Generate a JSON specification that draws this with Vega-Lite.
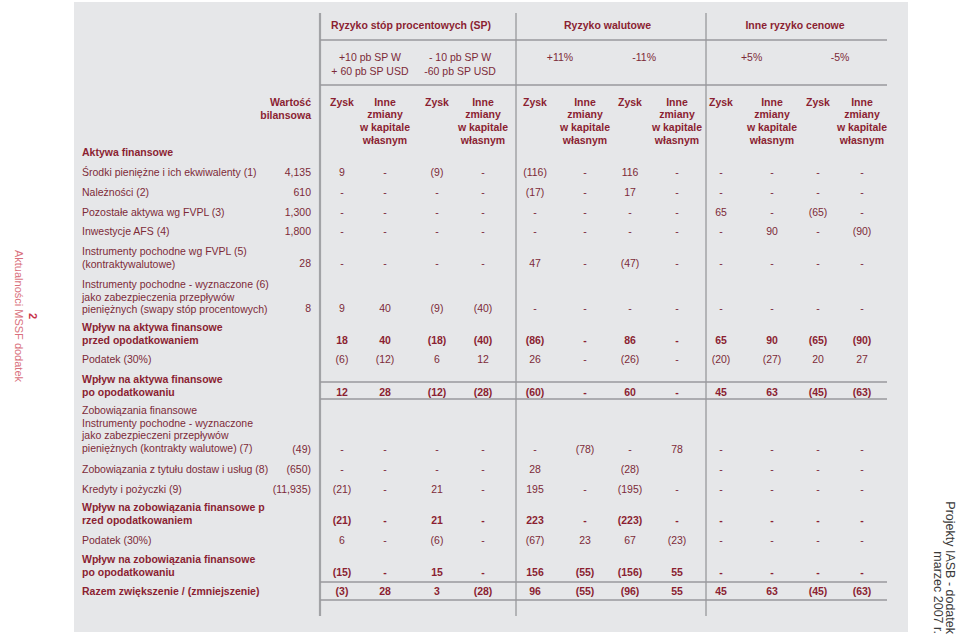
{
  "$schema": "https://vega.github.io/schema/vega-lite/v6.json",
  "width": 834,
  "height": 630,
  "autosize": {"type": "none"},
  "padding": {"left": 74, "top": 2, "right": 52, "bottom": 4},
  "background": "#ffffff",
  "config": {"view": {"fill": "#e6e7e9", "stroke": null}},
  "datasets": {
    "lines": [
      {"c": 0.5, "c2": 0.5, "r": 0, "r2": 27},
      {"c": 4.5, "c2": 4.5, "r": 0, "r2": 27},
      {"c": 8.5, "c2": 8.5, "r": 0, "r2": 27},
      {"c": 0.5, "c2": 12.5, "r": 2, "r2": 2},
      {"c": 0.5, "c2": 12.5, "r": 4, "r2": 4},
      {"c": 0.5, "c2": 12.5, "r": 15, "r2": 15},
      {"c": 0.5, "c2": 12.5, "r": 17, "r2": 17},
      {"c": 0.5, "c2": 12.5, "r": 24, "r2": 24},
      {"c": 0.5, "c2": 12.5, "r": 26, "r2": 26}
    ],
    "headers": [
      {"r": 1, "c": 2.5, "t": "Ryzyko stóp procentowych (SP)"},
      {"r": 1, "c": 6.5, "t": "Ryzyko walutowe"},
      {"r": 1, "c": 10.5, "t": "Inne ryzyko cenowe"},
      {"r": 3, "c": 1.65, "t": "+10 pb SP W\n+ 60 pb SP USD"},
      {"r": 3, "c": 3.5, "t": "- 10 pb SP W\n-60 pb SP USD"},
      {"r": 3, "c": 5.5, "t": "+11%"},
      {"r": 3, "c": 7.3, "t": "-11%"},
      {"r": 3, "c": 9.6, "t": "+5%"},
      {"r": 3, "c": 11.5, "t": "-5%"},
      {"r": 5, "c": 0, "t": "Wartość\nbilansowa"},
      {"r": 5, "c": 1, "t": "Zysk"},
      {"r": 5, "c": 2, "t": "Inne\nzmiany\nw kapitale\nwłasnym"},
      {"r": 5, "c": 3, "t": "Zysk"},
      {"r": 5, "c": 4, "t": "Inne\nzmiany\nw kapitale\nwłasnym"},
      {"r": 5, "c": 5, "t": "Zysk"},
      {"r": 5, "c": 6, "t": "Inne\nzmiany\nw kapitale\nwłasnym"},
      {"r": 5, "c": 7, "t": "Zysk"},
      {"r": 5, "c": 8, "t": "Inne\nzmiany\nw kapitale\nwłasnym"},
      {"r": 5, "c": 9, "t": "Zysk"},
      {"r": 5, "c": 10, "t": "Inne\nzmiany\nw kapitale\nwłasnym"},
      {"r": 5, "c": 11, "t": "Zysk"},
      {"r": 5, "c": 12, "t": "Inne\nzmiany\nw kapitale\nwłasnym"}
    ],
    "side": [
      {"c": -3, "r": 12.1, "t": "Aktualności MSSF dodatek"},
      {"c": -2, "r": 12.1, "t": "2"},
      {"c": 14, "r": 28, "t": "Projekty IASB - dodatek"},
      {"c": 13, "r": 28, "t": "marzec 2007 r."}
    ],
    "cells": [
      {"r": 6, "c": -1, "v": "Aktywa finansowe"},

      {"r": 7, "c": -1, "v": "Środki pieniężne i ich ekwiwalenty (1)"},
      {"r": 7, "c": 0, "v": "4,135"},
      {"r": 7, "c": 1, "v": "9"}, {"r": 7, "c": 2, "v": "-"}, {"r": 7, "c": 3, "v": "(9)"}, {"r": 7, "c": 4, "v": "-"},
      {"r": 7, "c": 5, "v": "(116)"}, {"r": 7, "c": 6, "v": "-"}, {"r": 7, "c": 7, "v": "116"}, {"r": 7, "c": 8, "v": "-"},
      {"r": 7, "c": 9, "v": "-"}, {"r": 7, "c": 10, "v": "-"}, {"r": 7, "c": 11, "v": "-"}, {"r": 7, "c": 12, "v": "-"},

      {"r": 8, "c": -1, "v": "Należności (2)"},
      {"r": 8, "c": 0, "v": "610"},
      {"r": 8, "c": 1, "v": "-"}, {"r": 8, "c": 2, "v": "-"}, {"r": 8, "c": 3, "v": "-"}, {"r": 8, "c": 4, "v": "-"},
      {"r": 8, "c": 5, "v": "(17)"}, {"r": 8, "c": 6, "v": "-"}, {"r": 8, "c": 7, "v": "17"}, {"r": 8, "c": 8, "v": "-"},
      {"r": 8, "c": 9, "v": "-"}, {"r": 8, "c": 10, "v": "-"}, {"r": 8, "c": 11, "v": "-"}, {"r": 8, "c": 12, "v": "-"},

      {"r": 9, "c": -1, "v": "Pozostałe aktywa wg FVPL (3)"},
      {"r": 9, "c": 0, "v": "1,300"},
      {"r": 9, "c": 1, "v": "-"}, {"r": 9, "c": 2, "v": "-"}, {"r": 9, "c": 3, "v": "-"}, {"r": 9, "c": 4, "v": "-"},
      {"r": 9, "c": 5, "v": "-"}, {"r": 9, "c": 6, "v": "-"}, {"r": 9, "c": 7, "v": "-"}, {"r": 9, "c": 8, "v": "-"},
      {"r": 9, "c": 9, "v": "65"}, {"r": 9, "c": 10, "v": "-"}, {"r": 9, "c": 11, "v": "(65)"}, {"r": 9, "c": 12, "v": "-"},

      {"r": 10, "c": -1, "v": "Inwestycje AFS (4)"},
      {"r": 10, "c": 0, "v": "1,800"},
      {"r": 10, "c": 1, "v": "-"}, {"r": 10, "c": 2, "v": "-"}, {"r": 10, "c": 3, "v": "-"}, {"r": 10, "c": 4, "v": "-"},
      {"r": 10, "c": 5, "v": "-"}, {"r": 10, "c": 6, "v": "-"}, {"r": 10, "c": 7, "v": "-"}, {"r": 10, "c": 8, "v": "-"},
      {"r": 10, "c": 9, "v": "-"}, {"r": 10, "c": 10, "v": "90"}, {"r": 10, "c": 11, "v": "-"}, {"r": 10, "c": 12, "v": "(90)"},

      {"r": 10.5, "c": -1, "v": "Instrumenty pochodne wg FVPL  (5)\n(kontraktywalutowe)"},
      {"r": 11, "c": 0, "v": "28"},
      {"r": 11, "c": 1, "v": "-"}, {"r": 11, "c": 2, "v": "-"}, {"r": 11, "c": 3, "v": "-"}, {"r": 11, "c": 4, "v": "-"},
      {"r": 11, "c": 5, "v": "47"}, {"r": 11, "c": 6, "v": "-"}, {"r": 11, "c": 7, "v": "(47)"}, {"r": 11, "c": 8, "v": "-"},
      {"r": 11, "c": 9, "v": "-"}, {"r": 11, "c": 10, "v": "-"}, {"r": 11, "c": 11, "v": "-"}, {"r": 11, "c": 12, "v": "-"},

      {"r": 11.5, "c": -1, "v": "Instrumenty pochodne - wyznaczone (6)\njako zabezpieczenia przepływów\npieniężnych (swapy stóp procentowych)"},
      {"r": 12, "c": 0, "v": "8"},
      {"r": 12, "c": 1, "v": "9"}, {"r": 12, "c": 2, "v": "40"}, {"r": 12, "c": 3, "v": "(9)"}, {"r": 12, "c": 4, "v": "(40)"},
      {"r": 12, "c": 5, "v": "-"}, {"r": 12, "c": 6, "v": "-"}, {"r": 12, "c": 7, "v": "-"}, {"r": 12, "c": 8, "v": "-"},
      {"r": 12, "c": 9, "v": "-"}, {"r": 12, "c": 10, "v": "-"}, {"r": 12, "c": 11, "v": "-"}, {"r": 12, "c": 12, "v": "-"},

      {"r": 12.5, "c": -1, "v": "Wpływ na aktywa finansowe\nprzed opodatkowaniem"},
      {"r": 13, "c": 1, "v": "18"}, {"r": 13, "c": 2, "v": "40"}, {"r": 13, "c": 3, "v": "(18)"}, {"r": 13, "c": 4, "v": "(40)"},
      {"r": 13, "c": 5, "v": "(86)"}, {"r": 13, "c": 6, "v": "-"}, {"r": 13, "c": 7, "v": "86"}, {"r": 13, "c": 8, "v": "-"},
      {"r": 13, "c": 9, "v": "65"}, {"r": 13, "c": 10, "v": "90"}, {"r": 13, "c": 11, "v": "(65)"}, {"r": 13, "c": 12, "v": "(90)"},

      {"r": 14, "c": -1, "v": "Podatek (30%)"},
      {"r": 14, "c": 1, "v": "(6)"}, {"r": 14, "c": 2, "v": "(12)"}, {"r": 14, "c": 3, "v": "6"}, {"r": 14, "c": 4, "v": "12"},
      {"r": 14, "c": 5, "v": "26"}, {"r": 14, "c": 6, "v": "-"}, {"r": 14, "c": 7, "v": "(26)"}, {"r": 14, "c": 8, "v": "-"},
      {"r": 14, "c": 9, "v": "(20)"}, {"r": 14, "c": 10, "v": "(27)"}, {"r": 14, "c": 11, "v": "20"}, {"r": 14, "c": 12, "v": "27"},

      {"r": 15.5, "c": -1, "v": "Wpływ na aktywa finansowe\npo opodatkowaniu"},
      {"r": 16, "c": 1, "v": "12"}, {"r": 16, "c": 2, "v": "28"}, {"r": 16, "c": 3, "v": "(12)"}, {"r": 16, "c": 4, "v": "(28)"},
      {"r": 16, "c": 5, "v": "(60)"}, {"r": 16, "c": 6, "v": "-"}, {"r": 16, "c": 7, "v": "60"}, {"r": 16, "c": 8, "v": "-"},
      {"r": 16, "c": 9, "v": "45"}, {"r": 16, "c": 10, "v": "63"}, {"r": 16, "c": 11, "v": "(45)"}, {"r": 16, "c": 12, "v": "(63)"},

      {"r": 17.5, "c": -1, "v": "Zobowiązania finansowe\nInstrumenty pochodne - wyznaczone\njako zabezpieczeni przepływów\npieniężnych (kontrakty walutowe) (7)"},
      {"r": 18, "c": 0, "v": "(49)"},
      {"r": 18, "c": 1, "v": "-"}, {"r": 18, "c": 2, "v": "-"}, {"r": 18, "c": 3, "v": "-"}, {"r": 18, "c": 4, "v": "-"},
      {"r": 18, "c": 5, "v": "-"}, {"r": 18, "c": 6, "v": "(78)"}, {"r": 18, "c": 7, "v": "-"}, {"r": 18, "c": 8, "v": "78"},
      {"r": 18, "c": 9, "v": "-"}, {"r": 18, "c": 10, "v": "-"}, {"r": 18, "c": 11, "v": "-"}, {"r": 18, "c": 12, "v": "-"},

      {"r": 19, "c": -1, "v": "Zobowiązania z tytułu dostaw i usług (8)"},
      {"r": 19, "c": 0, "v": "(650)"},
      {"r": 19, "c": 1, "v": "-"}, {"r": 19, "c": 2, "v": "-"}, {"r": 19, "c": 3, "v": "-"}, {"r": 19, "c": 4, "v": "-"},
      {"r": 19, "c": 5, "v": "28"}, {"r": 19, "c": 7, "v": "(28)"},
      {"r": 19, "c": 9, "v": "-"}, {"r": 19, "c": 10, "v": "-"}, {"r": 19, "c": 11, "v": "-"}, {"r": 19, "c": 12, "v": "-"},

      {"r": 20, "c": -1, "v": "Kredyty i pożyczki (9)"},
      {"r": 20, "c": 0, "v": "(11,935)"},
      {"r": 20, "c": 1, "v": "(21)"}, {"r": 20, "c": 2, "v": "-"}, {"r": 20, "c": 3, "v": "21"}, {"r": 20, "c": 4, "v": "-"},
      {"r": 20, "c": 5, "v": "195"}, {"r": 20, "c": 6, "v": "-"}, {"r": 20, "c": 7, "v": "(195)"}, {"r": 20, "c": 8, "v": "-"},
      {"r": 20, "c": 9, "v": "-"}, {"r": 20, "c": 10, "v": "-"}, {"r": 20, "c": 11, "v": "-"}, {"r": 20, "c": 12, "v": "-"},

      {"r": 20.5, "c": -1, "v": "Wpływ na zobowiązania finansowe p\nrzed opodatkowaniem"},
      {"r": 21, "c": 1, "v": "(21)"}, {"r": 21, "c": 2, "v": "-"}, {"r": 21, "c": 3, "v": "21"}, {"r": 21, "c": 4, "v": "-"},
      {"r": 21, "c": 5, "v": "223"}, {"r": 21, "c": 6, "v": "-"}, {"r": 21, "c": 7, "v": "(223)"}, {"r": 21, "c": 8, "v": "-"},
      {"r": 21, "c": 9, "v": "-"}, {"r": 21, "c": 10, "v": "-"}, {"r": 21, "c": 11, "v": "-"}, {"r": 21, "c": 12, "v": "-"},

      {"r": 22, "c": -1, "v": "Podatek (30%)"},
      {"r": 22, "c": 1, "v": "6"}, {"r": 22, "c": 2, "v": "-"}, {"r": 22, "c": 3, "v": "(6)"}, {"r": 22, "c": 4, "v": "-"},
      {"r": 22, "c": 5, "v": "(67)"}, {"r": 22, "c": 6, "v": "23"}, {"r": 22, "c": 7, "v": "67"}, {"r": 22, "c": 8, "v": "(23)"},
      {"r": 22, "c": 9, "v": "-"}, {"r": 22, "c": 10, "v": "-"}, {"r": 22, "c": 11, "v": "-"}, {"r": 22, "c": 12, "v": "-"},

      {"r": 22.5, "c": -1, "v": "Wpływ na zobowiązania finansowe\npo opodatkowaniu"},
      {"r": 23, "c": 1, "v": "(15)"}, {"r": 23, "c": 2, "v": "-"}, {"r": 23, "c": 3, "v": "15"}, {"r": 23, "c": 4, "v": "-"},
      {"r": 23, "c": 5, "v": "156"}, {"r": 23, "c": 6, "v": "(55)"}, {"r": 23, "c": 7, "v": "(156)"}, {"r": 23, "c": 8, "v": "55"},
      {"r": 23, "c": 9, "v": "-"}, {"r": 23, "c": 10, "v": "-"}, {"r": 23, "c": 11, "v": "-"}, {"r": 23, "c": 12, "v": "-"},

      {"r": 25, "c": -1, "v": "Razem zwiększenie / (zmniejszenie)"},
      {"r": 25, "c": 1, "v": "(3)"}, {"r": 25, "c": 2, "v": "28"}, {"r": 25, "c": 3, "v": "3"}, {"r": 25, "c": 4, "v": "(28)"},
      {"r": 25, "c": 5, "v": "96"}, {"r": 25, "c": 6, "v": "(55)"}, {"r": 25, "c": 7, "v": "(96)"}, {"r": 25, "c": 8, "v": "55"},
      {"r": 25, "c": 9, "v": "45"}, {"r": 25, "c": 10, "v": "63"}, {"r": 25, "c": 11, "v": "(45)"}, {"r": 25, "c": 12, "v": "(63)"}
    ]
  },
  "encoding": {
    "x": {
      "field": "c",
      "type": "quantitative",
      "axis": null,
      "scale": {
        "type": "linear",
        "nice": false,
        "zero": false,
        "domain": [-3, -2, -1, 0, 0.5, 1, 2, 3, 4, 4.5, 5, 6, 7, 8, 8.5, 9, 10, 11, 12, 12.5, 13, 14],
        "range": [-56, -42, 8, 237, 246, 268, 311, 363, 409, 442, 461, 511, 556, 603, 632, 647, 698, 744, 788, 813, 864, 876]
      }
    },
    "y": {
      "field": "r",
      "type": "quantitative",
      "axis": null,
      "scale": {
        "type": "linear",
        "nice": false,
        "zero": false,
        "domain": [0, 1, 2, 3, 4, 5, 6, 7, 8, 9, 10, 10.5, 11, 11.5, 12, 12.1, 12.5, 13, 14, 15, 15.5, 16, 17, 17.5, 18, 19, 20, 20.5, 21, 22, 22.5, 23, 24, 25, 26, 27, 28],
        "range": [11, 18.5, 38, 50.5, 83, 95.5, 156, 176, 196, 216, 235, 255, 267, 288, 312, 314, 331, 344, 363, 380, 383, 396, 397, 414, 452.5, 472.5, 492.5, 511, 524, 544, 563, 576, 580, 595, 598, 614, 632]
      }
    }
  },
  "layer": [
    {
      "data": {"name": "lines"},
      "transform": [{"filter": "datum.c == datum.c2 && datum.c == 0.5"}],
      "mark": {"type": "rule", "color": "#a2a3a6", "strokeWidth": 2.2},
      "encoding": {"x2": {"field": "c2"}, "y2": {"field": "r2"}}
    },
    {
      "data": {"name": "lines"},
      "transform": [{"filter": "datum.c == datum.c2 && datum.c > 0.5"}],
      "mark": {"type": "rule", "color": "#808184", "strokeWidth": 1},
      "encoding": {"x2": {"field": "c2"}, "y2": {"field": "r2"}}
    },
    {
      "data": {"name": "lines"},
      "transform": [{"filter": "datum.c != datum.c2"}],
      "mark": {"type": "rule", "color": "#98999c", "strokeWidth": 1.5},
      "encoding": {"x2": {"field": "c2"}, "y2": {"field": "r2"}}
    },
    {
      "data": {"name": "headers"},
      "transform": [{"filter": "datum.r == 1"}],
      "mark": {"type": "text", "font": "Liberation Sans", "fontSize": 10.5, "fontWeight": "bold", "align": "center", "baseline": "top", "color": "#8b1f32"},
      "encoding": {"text": {"field": "t", "type": "nominal"}}
    },
    {
      "data": {"name": "headers"},
      "transform": [{"filter": "datum.r == 3"}],
      "mark": {"type": "text", "font": "Liberation Sans", "fontSize": 10.5, "align": "center", "baseline": "top", "lineBreak": "\n", "lineHeight": 14, "color": "#7d2a38"},
      "encoding": {"text": {"field": "t", "type": "nominal"}}
    },
    {
      "data": {"name": "headers"},
      "transform": [{"filter": "datum.r == 5 && datum.c >= 1"}],
      "mark": {"type": "text", "font": "Liberation Sans", "fontSize": 10.5, "fontWeight": "bold", "align": "center", "baseline": "top", "lineBreak": "\n", "lineHeight": 12.7, "color": "#8b1f32"},
      "encoding": {"text": {"field": "t", "type": "nominal"}}
    },
    {
      "data": {"name": "headers"},
      "transform": [{"filter": "datum.r == 5 && datum.c == 0"}],
      "mark": {"type": "text", "font": "Liberation Sans", "fontSize": 10.5, "fontWeight": "bold", "align": "right", "baseline": "top", "lineBreak": "\n", "lineHeight": 13.5, "color": "#8b1f32"},
      "encoding": {"text": {"field": "t", "type": "nominal"}}
    },
    {
      "data": {"name": "cells"},
      "transform": [{"filter": "datum.c == -1 && indexof([6, 12.5, 15.5, 20.5, 22.5, 25], datum.r) < 0"}],
      "mark": {"type": "text", "font": "Liberation Sans", "fontSize": 10.5, "align": "left", "baseline": "bottom", "lineBreak": "\n", "lineHeight": 12.7, "color": "#7d2a38"},
      "encoding": {"text": {"field": "v", "type": "nominal"}}
    },
    {
      "data": {"name": "cells"},
      "transform": [{"filter": "datum.c == -1 && indexof([6, 12.5, 15.5, 20.5, 22.5, 25], datum.r) >= 0"}],
      "mark": {"type": "text", "font": "Liberation Sans", "fontSize": 10.5, "fontWeight": "bold", "align": "left", "baseline": "bottom", "lineBreak": "\n", "lineHeight": 13, "color": "#8b1f32"},
      "encoding": {"text": {"field": "v", "type": "nominal"}}
    },
    {
      "data": {"name": "cells"},
      "transform": [{"filter": "datum.c == 0"}],
      "mark": {"type": "text", "font": "Liberation Sans", "fontSize": 10.5, "align": "right", "baseline": "bottom", "color": "#7d2a38"},
      "encoding": {"text": {"field": "v", "type": "nominal"}}
    },
    {
      "data": {"name": "cells"},
      "transform": [{"filter": "datum.c >= 1 && indexof([13, 16, 21, 23, 25], datum.r) < 0"}],
      "mark": {"type": "text", "font": "Liberation Sans", "fontSize": 10.5, "align": "center", "baseline": "bottom", "color": "#7d2a38"},
      "encoding": {"text": {"field": "v", "type": "nominal"}}
    },
    {
      "data": {"name": "cells"},
      "transform": [{"filter": "datum.c >= 1 && indexof([13, 16, 21, 23, 25], datum.r) >= 0"}],
      "mark": {"type": "text", "font": "Liberation Sans", "fontSize": 10.5, "fontWeight": "bold", "align": "center", "baseline": "bottom", "color": "#8b1f32"},
      "encoding": {"text": {"field": "v", "type": "nominal"}}
    },
    {
      "data": {"name": "side"},
      "transform": [{"filter": "datum.c == -3"}],
      "mark": {"type": "text", "font": "Liberation Sans", "fontSize": 11, "angle": 90, "align": "center", "baseline": "middle", "color": "#d9707c"},
      "encoding": {"text": {"field": "t", "type": "nominal"}}
    },
    {
      "data": {"name": "side"},
      "transform": [{"filter": "datum.c == -2"}],
      "mark": {"type": "text", "font": "Liberation Sans", "fontSize": 11, "fontWeight": "bold", "angle": 90, "align": "center", "baseline": "middle", "color": "#c8334a"},
      "encoding": {"text": {"field": "t", "type": "nominal"}}
    },
    {
      "data": {"name": "side"},
      "transform": [{"filter": "datum.c >= 13"}],
      "mark": {"type": "text", "font": "Liberation Sans", "fontSize": 12.5, "angle": 90, "align": "right", "baseline": "middle", "color": "#3a3a3a"},
      "encoding": {"text": {"field": "t", "type": "nominal"}}
    }
  ]
}
